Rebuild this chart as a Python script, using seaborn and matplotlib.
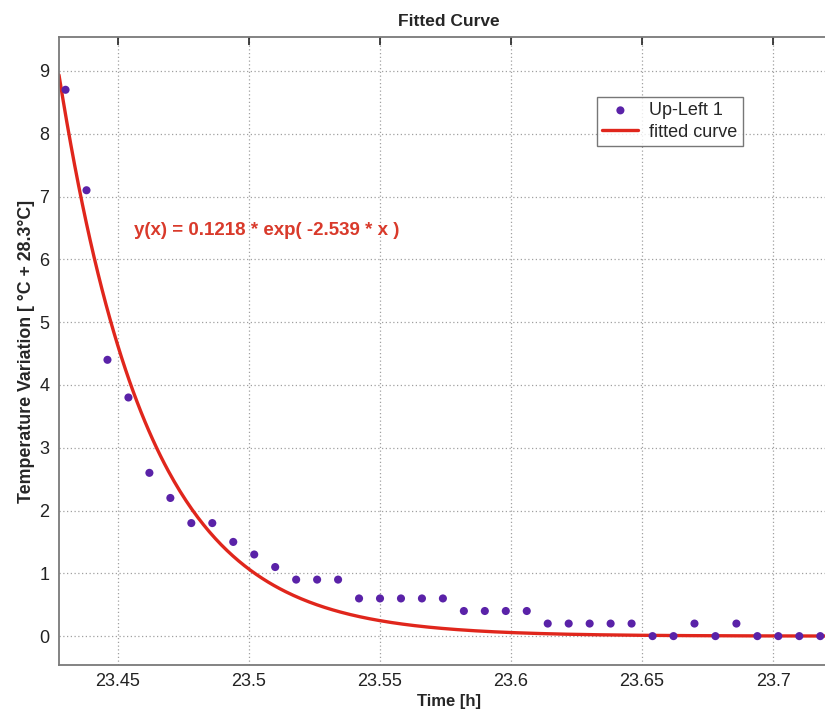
import numpy as np
import pandas as pd
import matplotlib
matplotlib.use("Agg")
import matplotlib.pyplot as plt
import seaborn as sns

# measured points (time in hours, temperature variation)
time_h = [23.430, 23.438, 23.446, 23.454, 23.462, 23.470, 23.478, 23.486,
          23.494, 23.502, 23.510, 23.518, 23.526, 23.534, 23.542, 23.550,
          23.558, 23.566, 23.574, 23.582, 23.590, 23.598, 23.606, 23.614,
          23.622, 23.630, 23.638, 23.646, 23.654, 23.662, 23.670, 23.678,
          23.686, 23.694, 23.702, 23.710, 23.718]
temp_var = [8.7, 7.1, 4.4, 3.8, 2.6, 2.2, 1.8, 1.8, 1.5, 1.3, 1.1, 0.9, 0.9,
            0.9, 0.6, 0.6, 0.6, 0.6, 0.6, 0.4, 0.4, 0.4, 0.4, 0.2, 0.2, 0.2,
            0.2, 0.2, 0.0, 0.0, 0.2, 0.0, 0.2, 0.0, 0.0, 0.0, 0.0]

# fit coefficients shown on the chart (x is centred and scaled time)
fit_a = 0.1218
fit_b = -2.539

x_ticks = [23.45, 23.5, 23.55, 23.6, 23.65, 23.7]
x_tick_labels = ["23.45", "23.5", "23.55", "23.6", "23.65", "23.7"]
y_ticks = [0, 1, 2, 3, 4, 5, 6, 7, 8, 9]

df = pd.DataFrame({"time": time_h, "temp": temp_var})

xmin, xmax = 23.4275, 23.725
t_mean = df["time"].mean()
t_std = df["time"].std()
curve_t = np.linspace(xmin, xmax, 400)
curve = pd.DataFrame({
    "time": curve_t,
    "temp": fit_a * np.exp(fit_b * (curve_t - t_mean) / t_std),
})

sns.set_style("white")
plt.rcParams["font.family"] = ["Liberation Sans", "DejaVu Sans"]

fig = plt.figure(figsize=(8.25, 7.12), dpi=100)
ax = fig.add_axes([0.0715, 0.066, 0.945, 0.882])

sns.lineplot(data=curve, x="time", y="temp", ax=ax, color="#e0261c",
             linewidth=2.4, label="fitted curve", zorder=2)
sns.scatterplot(data=df, x="time", y="temp", ax=ax, color="#5a22a8",
                s=34, edgecolor="none", label="Up-Left 1", zorder=3)

ax.set_xlim(xmin, xmax)
ax.set_ylim(-0.46, 9.54)
ax.set_xticks(x_ticks)
ax.set_xticklabels(x_tick_labels)
ax.set_yticks(y_ticks)
ax.tick_params(axis="both", direction="in", length=6, width=1.2,
               labelsize=13, colors="#222222", top=True, right=True,
               pad=7)
ax.tick_params(axis="x", pad=5.5)
ax.grid(True, linestyle=(0, (1, 2)), color="#a0a0a0", linewidth=0.9)
for sp in ax.spines.values():
    sp.set_color("#7a7a7a")
    sp.set_linewidth(1.3)

ax.set_xlabel("Time [h]", fontsize=12, fontweight="bold", labelpad=3)
ax.set_ylabel("Temperature Variation [ °C + 28.3°C]", fontsize=12.8,
              fontweight="bold", labelpad=3)
ax.set_title("Fitted Curve", fontsize=12.5, fontweight="bold", pad=8)

ax.text(0.096, 0.692, "y(x) = 0.1218 * exp( -2.539 * x )",
        transform=ax.transAxes, color="#d93a2b", fontsize=13.5,
        fontweight="bold", va="center")

handles, labels = ax.get_legend_handles_labels()
order = [labels.index("Up-Left 1"), labels.index("fitted curve")]
leg = ax.legend([handles[i] for i in order], [labels[i] for i in order],
                loc="upper left", bbox_to_anchor=(0.690, 0.905),
                fontsize=13, frameon=True, fancybox=False, borderpad=0.3,
                handlelength=2.0, labelspacing=0.25, borderaxespad=0,
                handletextpad=0.6)
leg.get_frame().set_edgecolor("#555555")
leg.get_frame().set_linewidth(1.0)

fig.savefig("out.png", dpi=100)
